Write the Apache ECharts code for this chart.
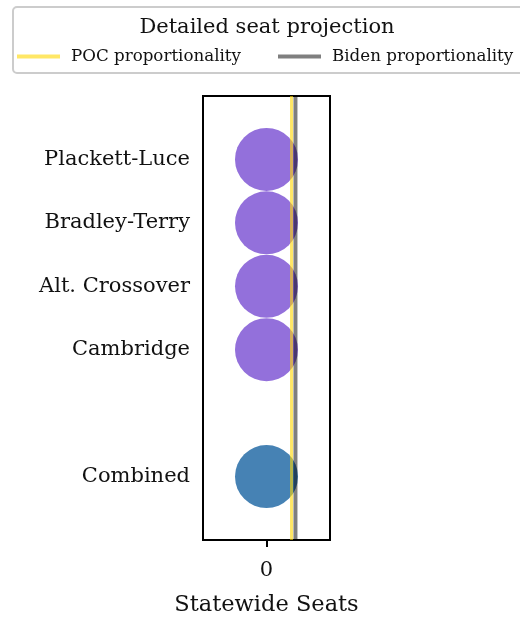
<!DOCTYPE html>
<html><head><meta charset="utf-8">
<script src="https://cdn.jsdelivr.net/npm/echarts@6/dist/echarts.min.js"></script>
<style>html,body{margin:0;padding:0;background:#fff}#c{width:520px;height:624px}</style>
</head><body><div id="c"></div>
<script>
const categories = ['Plackett-Luce', 'Bradley-Terry', 'Alt. Crossover', 'Cambridge', 'Combined'];
const rowIndex = [0, 1, 2, 3, 5];
const seats = [0, 0, 0, 0, 0];
const pointColors = ['#9370DB', '#9370DB', '#9370DB', '#9370DB', '#4682B4'];
const pocProportionality = 0.197;
const bidenProportionality = 0.228;
const xTicks = [0];
const FONT = 'DejaVu Serif';

const chart = echarts.init(document.getElementById('c'), null, {renderer: 'canvas'});
const labelOf = {};
rowIndex.forEach((r, i) => labelOf[r] = categories[i]);

chart.setOption({
  animation: false,
  title: {
    text: 'Detailed seat projection', left: 262, top: 12, textAlign: 'center',
    textStyle: {fontFamily: FONT, fontWeight: 'normal', fontSize: 21, color: '#111'}
  },
  graphic: [{
    type: 'rect', shape: {x: 13, y: 7, width: 520, height: 66, r: 4},
    style: {fill: 'none', stroke: '#cccccc', lineWidth: 2}, z: 0, silent: true
  }],
  legend: [{
    data: ['POC proportionality'], left: 17, top: 48, padding: 0, itemWidth: 43, itemHeight: 4, itemGap: 10,
    icon: 'rect', selectedMode: false, textStyle: {fontFamily: FONT, fontSize: 16.7, color: '#111', padding: [0, 0, 0, 6]}
  }, {
    data: ['Biden proportionality'], left: 278, top: 48, padding: 0, itemWidth: 43, itemHeight: 4,
    icon: 'rect', selectedMode: false, textStyle: {fontFamily: FONT, fontSize: 16.7, color: '#111', padding: [0, 0, 0, 6]}
  }],
  grid: {left: 203, top: 96, width: 127, height: 444, show: true, borderColor: '#000', borderWidth: 2, backgroundColor: 'transparent'},
  xAxis: {
    type: 'value', min: -0.5, max: 0.5,
    name: 'Statewide Seats', nameLocation: 'middle', nameGap: 54,
    nameTextStyle: {fontFamily: FONT, fontSize: 22.5, color: '#111'},
    axisLine: {show: true, onZero: false, lineStyle: {color: '#000', width: 2}}, splitLine: {show: false},
    axisTick: {show: true, customValues: xTicks, length: 7, lineStyle: {color: '#000', width: 2}},
    axisLabel: {customValues: xTicks, fontFamily: FONT, fontSize: 21, color: '#111', margin: 20}
  },
  yAxis: {
    type: 'value', min: -1, max: 6, inverse: true,
    axisLine: {show: false, onZero: false}, splitLine: {show: false},
    axisTick: {show: false},
    axisLabel: {customValues: rowIndex, formatter: v => labelOf[v] || '', fontFamily: FONT, fontSize: 21, color: '#111', margin: 13, lineHeight: 24, padding: [0, 0, 4, 0]}
  },
  series: [
    {type: 'scatter', symbolSize: 63, z: 2, silent: true,
     data: seats.map((s, i) => ({value: [s, rowIndex[i]], itemStyle: {color: pointColors[i], opacity: 1}}))},
    {name: 'POC proportionality', type: 'line', data: [[pocProportionality, -1], [pocProportionality, 6]], silent: true,
     symbol: 'none', lineStyle: {color: 'rgba(255,215,0,0.6)', width: 3}, itemStyle: {color: 'rgba(255,215,0,0.6)'}, z: 3},
    {name: 'Biden proportionality', type: 'line', data: [[bidenProportionality, -1], [bidenProportionality, 6]], silent: true,
     symbol: 'none', lineStyle: {color: 'rgba(0,0,0,0.5)', width: 4}, itemStyle: {color: 'rgba(0,0,0,0.5)'}, z: 3}
  ]
});
</script></body></html>
